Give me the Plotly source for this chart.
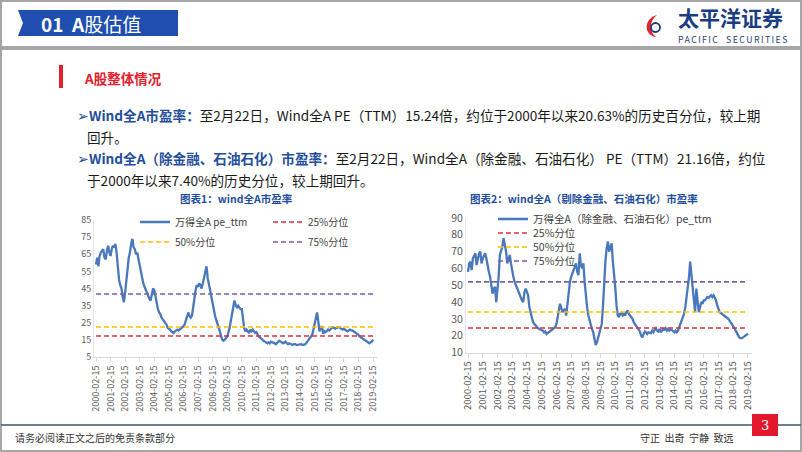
import plotly.graph_objects as go
import pandas as pd

# ---------------- data ----------------
dates = pd.date_range("2000-02-01", periods=229, freq="MS") + pd.Timedelta(days=14)

pe1_name = "万得全A pe_ttm"
pe1 = [
    59, 63, 58, 64, 66, 67, 68, 63, 62, 67,
    70, 66, 64, 68, 70, 69, 71, 66, 55, 50,
    47, 45, 40, 37, 43, 48, 56, 63, 66, 71,
    74, 69, 68, 65, 66, 62, 58, 55, 50, 48,
    46, 44, 42, 41, 39, 38, 41, 45, 44, 40,
    36, 33, 31, 30, 28, 27, 26, 25, 24, 22,
    21.5, 21, 20, 19.5, 19, 20, 20.5, 21, 20.5, 21,
    22, 22.5, 23, 24, 26, 28, 31, 29, 28, 29,
    33, 39, 44, 47, 46, 48, 47, 45, 48, 52,
    54, 58, 51, 48, 44, 40, 37, 33, 29, 27,
    24, 22, 20, 17, 15, 14.5, 15, 16, 17, 19,
    22, 26, 31, 34, 38, 35, 34, 35, 34, 33,
    33, 28, 22, 20, 21, 20, 19, 21, 20, 21,
    20, 19, 19.5, 18, 17, 16.5, 16, 15.5, 14.5, 14,
    13.5, 13, 13.5, 13, 14, 13.5, 13, 13, 12.5, 13,
    13.5, 14.5, 14, 13.5, 13, 13.5, 14, 13, 12.5, 13,
    12.5, 12.5, 12, 12.5, 12.5, 12, 12.2, 12, 12.5, 12.5,
    12, 12, 12.3, 13, 14, 15, 16, 17, 18, 21,
    25, 27, 31, 26, 20, 22, 23, 18.5, 20, 19.5,
    20.5, 21, 20.5, 21.5, 22, 22.3, 22, 21.5, 22, 22.5,
    22.5, 22, 21.5, 21, 21.5, 21, 20.5, 20, 20.5, 21,
    20.5, 20.5, 20, 19.5, 19, 18.5, 18, 17, 16.5, 16,
    15, 14.5, 14, 13.5, 13.5, 13, 13.5, 14, 15.24,
]

pe2_name = "万得全A（除金融、石油石化）pe_ttm"
pe2 = [
    58, 63, 64, 59, 66, 68, 69, 62, 66, 69,
    70, 63, 66, 68, 69, 66, 61, 58, 55, 50,
    45, 48, 49, 40, 47, 55, 68, 71, 73, 78,
    74, 70, 63, 66, 68, 63, 58, 55, 52, 50,
    48, 46, 45, 43, 41, 40, 46, 48, 46, 44,
    37, 34, 31, 28, 27, 26, 25, 24.5, 24, 23.5,
    23.5, 23, 22, 22.5, 21, 21.5, 22, 23, 23.5, 24,
    24.5, 25, 27, 30, 35, 39, 36, 34, 35, 36,
    32, 40, 45, 52, 55, 57, 59, 60, 63, 58,
    56, 69, 62, 60, 63, 52, 42, 37, 32, 29,
    27, 24, 22, 18, 14.5, 16, 18.5, 21, 24, 27,
    38, 55, 65, 72, 76, 70, 72, 75, 64, 57,
    48, 38, 32, 31, 33, 33.5, 32, 33, 32, 34,
    35, 33, 32, 31, 30, 28, 27, 26, 24.5, 23.5,
    22.5, 20, 19, 21, 22.5, 22, 21, 22, 21.5, 21.5,
    23, 22, 23.5, 24.5, 23, 22.5, 24, 22, 23, 24,
    23.5, 24.5, 23, 24, 23, 23.5, 23.4, 22.5, 22, 23,
    22, 23, 25, 27, 28, 31, 33, 37, 43, 48,
    55, 64, 56, 50, 42, 34, 48, 40, 34, 37,
    40, 39, 41, 41, 42, 43, 42.5, 43, 44, 43,
    44, 42.5, 41, 38, 36, 34, 33.5, 33, 32.5, 32,
    31.5, 31, 30, 29, 28, 27, 26, 24.5, 23, 21.5,
    20, 19, 18.5, 18.5, 19, 19.5, 20, 20.5, 21.16,
]

pct_labels = ["25%分位", "50%分位", "75%分位"]
pct1_values = [17.3, 22.5, 41.8]
pct2_values = [24.6, 34.1, 52.0]

tick_labels = [f"{y}-02-15" for y in range(2000, 2020)]

# ---------------- styles ----------------
W, H = 802, 452
FONT = "Noto Sans CJK SC, Microsoft YaHei, sans-serif"
BLUE = "#4A78BC"
PCT_COLORS = ["#D8323C", "#FFC000", "#7A62A0"]
TXT_BLUE = "#1F4E9D"
RED = "#E3202E"
TICK = "#595959"


def X(px):
    return px / W


def Y(py):
    return 1 - py / H


def path(pts, close=True):
    s = "M " + " L ".join(f"{X(a):.5f},{Y(b):.5f}" for a, b in pts)
    return s + (" Z" if close else "")


fig = go.Figure()

# chart 1
fig.add_trace(go.Scatter(x=dates, y=pe1, mode="lines", name=pe1_name,
                         line=dict(color=BLUE, width=2.3),
                         xaxis="x", yaxis="y", legend="legend"))
for i, (lab, v) in enumerate(zip(pct_labels, pct1_values)):
    fig.add_trace(go.Scatter(x=[dates[0], dates[-1]], y=[v, v], mode="lines", name=lab,
                             line=dict(color=PCT_COLORS[i], width=1.6, dash="5px,3px"),
                             xaxis="x", yaxis="y",
                             legend="legend" if i == 0 else "legend2"))

# chart 2 (each legend row is its own legend box to get the tight row spacing)
fig.add_trace(go.Scatter(x=dates, y=pe2, mode="lines", name=pe2_name,
                         line=dict(color=BLUE, width=2.3),
                         xaxis="x2", yaxis="y2", legend="legend3"))
for i, (lab, v) in enumerate(zip(pct_labels, pct2_values)):
    fig.add_trace(go.Scatter(x=[dates[0], dates[-1]], y=[v, v], mode="lines", name=lab,
                             line=dict(color=PCT_COLORS[i], width=1.6, dash="5px,3px"),
                             xaxis="x2", yaxis="y2", legend=f"legend{4 + i}"))

xrange = ["1999-12-27", "2019-05-26"]
common_x = dict(type="date", range=xrange, tickvals=tick_labels, ticktext=tick_labels,
                tickangle=-90, showgrid=False, zeroline=False, showline=True,
                linecolor="#D9D9D9", linewidth=1, ticks="outside", ticklen=4,
                tickcolor="#D9D9D9")
common_y = dict(showgrid=False, zeroline=False, showline=True, linecolor="#E3E3E3",
                linewidth=1, ticks="")

shapes = [
    dict(type="rect", xref="paper", yref="paper", x0=X(1), x1=X(801), y0=Y(451), y1=Y(1),
         line=dict(color="#A6A6A6", width=2), fillcolor="rgba(0,0,0,0)", layer="below"),
    dict(type="rect", xref="paper", yref="paper", x0=0, x1=1, y0=Y(50), y1=Y(46),
         line=dict(width=0), fillcolor="#A6A6A6"),
    dict(type="path", xref="paper", yref="paper",
         path=path([(18, 10), (178, 10), (178, 36), (18, 36), (23, 23)]),
         fillcolor="#1E4FB0", line=dict(width=0)),
    dict(type="path", xref="paper", yref="paper",
         path=(f"M {X(657):.5f},{Y(15):.5f} C {X(644):.5f},{Y(18):.5f} {X(643):.5f},{Y(35):.5f} "
               f"{X(656):.5f},{Y(37):.5f} C {X(649):.5f},{Y(32):.5f} {X(649):.5f},{Y(21):.5f} "
               f"{X(657):.5f},{Y(15):.5f} Z"),
         fillcolor="#E2242B", line=dict(width=0)),
    dict(type="circle", xref="paper", yref="paper", x0=X(651), x1=X(660), y0=Y(32), y1=Y(23),
         line=dict(color="#1B3C83", width=1.8), fillcolor="rgba(0,0,0,0)"),
    dict(type="rect", xref="paper", yref="paper", x0=X(59), x1=X(63), y0=Y(88), y1=Y(65),
         line=dict(width=0), fillcolor=RED),
    dict(type="line", xref="paper", yref="paper", x0=X(1), x1=X(801), y0=Y(425), y1=Y(425),
         line=dict(color="#44546A", width=1.5)),
    dict(type="rect", xref="paper", yref="paper", x0=X(752), x1=X(778), y0=Y(436), y1=Y(414),
         line=dict(width=0), fillcolor="#E3182D"),
]

ann = []


def text(x, y, s, size, color="#1A1A1A", xanchor="left", bold=False, family=FONT):
    ann.append(dict(xref="paper", yref="paper", x=X(x), y=Y(y), text=f"<b>{s}</b>" if bold else s,
                    showarrow=False, xanchor=xanchor, yanchor="middle",
                    font=dict(size=size, color=color, family=family)))


text(39, 23, "<b>01</b>  <b>A</b>股估值", 19, "white")
text(676, 17, "太平洋证券", 21, "#1B3C83", bold=True)
text(676, 39.5, "<span style='letter-spacing:1.4px'>PACIFIC  SECURITIES</span>", 8.8, "#2B3F73")
text(82, 78, "A股整体情况", 13.5, RED, bold=True)

b = f"<span style='color:{TXT_BLUE}'>"
text(75, 115, f"{b}➢<b>Wind全A市盈率：</b></span>至2月22日，Wind全A PE（TTM）15.24倍，约位于2000年以来20.63%的历史百分位，较上期", 13.6)
text(85, 137, "回升。", 13.6)
text(75, 158, f"{b}➢<b>Wind全A（除金融、石油石化）市盈率：</b></span>至2月22日，Wind全A（除金融、石油石化） PE（TTM）21.16倍，约位", 13.6)
text(85, 180, "于2000年以来7.40%的历史分位，较上期回升。", 13.6)

text(236, 198, "图表1：wind全A市盈率", 10.5, TXT_BLUE, xanchor="center", bold=True)
text(584, 198, "图表2：wind全A（剔除金融、石油石化）市盈率", 10.5, TXT_BLUE, xanchor="center", bold=True)

text(765, 425, "3", 13, "white", xanchor="center", family="DejaVu Serif")
text(13, 437, "请务必阅读正文之后的免责条款部分", 10, "#333333")
text(638, 437, "守正  出奇  宁静  致远", 10, "#333333")

legend_common = dict(orientation="h", xanchor="left", yanchor="middle", bgcolor="rgba(0,0,0,0)",
                     itemwidth=30, entrywidth=88, entrywidthmode="pixels",
                     font=dict(size=10, color="#404040", family=FONT), tracegroupgap=0)
legend_v = dict(orientation="v", xanchor="left", yanchor="middle", bgcolor="rgba(0,0,0,0)",
                itemwidth=30, tracegroupgap=0,
                font=dict(size=10.5, color="#404040", family=FONT))

fig.update_layout(
    width=W, height=H, margin=dict(l=0, r=0, t=0, b=0, autoexpand=False),
    paper_bgcolor="white", plot_bgcolor="white",
    font=dict(family=FONT, color=TICK),
    showlegend=True,
    xaxis=dict(domain=[X(94), X(377)], anchor="y", tickfont=dict(size=9, color=TICK), **common_x),
    yaxis=dict(domain=[Y(357), Y(220)], anchor="x", range=[5, 85], tick0=5, dtick=10,
               tickfont=dict(size=9, color=TICK), **common_y),
    xaxis2=dict(domain=[X(466), X(752)], anchor="y2", tickfont=dict(size=9.5, color=TICK), **common_x),
    yaxis2=dict(domain=[Y(352.5), Y(218)], anchor="x2", range=[10, 90], tick0=10, dtick=10,
                tickfont=dict(size=10.5, color=TICK), **common_y),
    legend=dict(x=X(135), y=Y(222), **legend_common),
    legend2=dict(x=X(135), y=Y(242), **legend_common),
    legend3=dict(x=X(493), y=Y(219), **legend_v),
    legend4=dict(x=X(493), y=Y(233), **legend_v),
    legend5=dict(x=X(493), y=Y(247), **legend_v),
    legend6=dict(x=X(493), y=Y(261), **legend_v),
    shapes=shapes,
    annotations=ann,
)

fig.write_html("out.html", config={"displayModeBar": False},
               post_script="document.body.style.margin='0';document.body.style.padding='0';")
